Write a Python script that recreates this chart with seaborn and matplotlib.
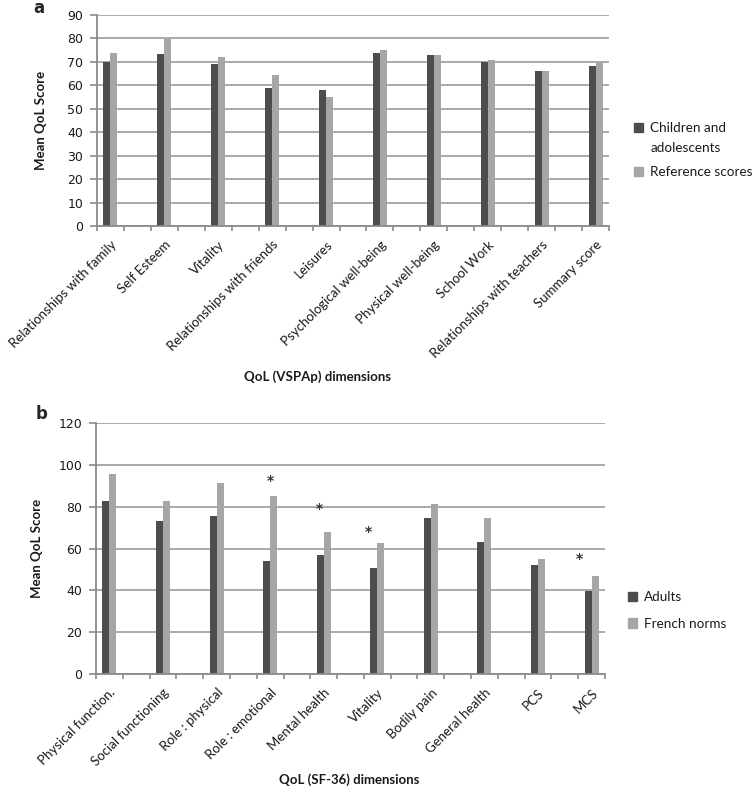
import matplotlib
matplotlib.use("Agg")
import matplotlib.pyplot as plt
import matplotlib.patches as mpatches
import seaborn as sns
import pandas as pd
import numpy as np

# ---------------- data ----------------
vspa_dims = ["Relationships with family", "Self Esteem", "Vitality",
             "Relationships with friends", "Leisures", "Psychological well-being",
             "Physical well-being", "School Work", "Relationships with teachers",
             "Summary score"]
vspa_children = [70.0, 73.3, 69.1, 58.7, 57.8, 73.8, 72.9, 69.9, 66.2, 68.1]
vspa_reference = [73.8, 79.9, 71.9, 64.2, 54.9, 75.2, 72.9, 70.9, 66.2, 69.9]
vspa_groups = ["Children and\nadolescents", "Reference scores"]

sf36_dims = ["Physical function.", "Social functioning", "Role : physical",
             "Role : emotional", "Mental health", "Vitality", "Bodily pain",
             "General health", "PCS", "MCS"]
sf36_adults = [82.8, 73.1, 75.3, 54.0, 56.7, 50.8, 74.6, 62.9, 51.9, 39.9]
sf36_norms = [95.5, 82.8, 91.2, 85.3, 67.8, 62.4, 81.5, 74.6, 54.9, 47.0]
sf36_groups = ["Adults", "French norms"]

sig_dims = ["Role : emotional", "Mental health", "Vitality", "MCS"]
sig_star_y = [92.5, 79.0, 68.0, 55.0]

# ---------------- style ----------------
DARK = "#4d4d4d"
LIGHT = "#a6a6a6"
GRID = "#a3a3a3"
AXC = "#8a8a8a"
TXT = "#1a1a1a"
FONT = ["Lato", "DejaVu Sans"]

sns.set_theme(style="white")
plt.rcParams["font.family"] = FONT

W, H = 755, 789
fig = plt.figure(figsize=(W / 100, H / 100), dpi=100)


def px_axes(l, t, r, b):
    return fig.add_axes([l / W, 1 - b / H, (r - l) / W, (b - t) / H])


def make_panel(ax, dims, s1, s2, groups, ymax, ystep):
    order = []
    for i, d in enumerate(dims):
        order.append(d)
        if i < len(dims) - 1:
            order.append(f"_gap{i}")
    df = pd.DataFrame({
        "dim": dims * 2,
        "score": list(s1) + list(s2),
        "group": [groups[0]] * len(dims) + [groups[1]] * len(dims),
    })
    sns.barplot(data=df, x="dim", y="score", hue="group", order=order,
                hue_order=groups, palette=[DARK, LIGHT], width=0.52, gap=0,
                saturation=1, errorbar=None, legend=False, linewidth=0, ax=ax)
    n = len(order)
    ax.set_xlim(-0.5, n - 0.5)
    ax.set_ylim(0, ymax)
    ax.set_yticks(np.arange(0, ymax + 1, ystep))
    ax.set_yticklabels([str(v) for v in np.arange(0, ymax + 1, ystep)],
                       family="DejaVu Sans", fontsize=9, color=TXT)
    ax.set_axisbelow(True)
    ax.yaxis.grid(True, color=GRID, linewidth=1.3)
    ax.xaxis.grid(False)
    for s in ["top", "right"]:
        ax.spines[s].set_visible(False)
    for s in ["left", "bottom"]:
        ax.spines[s].set_color(AXC)
        ax.spines[s].set_linewidth(1.3)
    pos = [order.index(d) for d in dims]
    ax.set_xticks(pos)
    ax.set_xticklabels(dims, rotation=45, ha="right", rotation_mode="anchor",
                       fontsize=9.5, color=TXT)
    ax.set_xticks(np.arange(-0.5, n, 1.0), minor=True)
    ax.tick_params(axis="x", which="major", length=0, pad=9)
    ax.tick_params(axis="x", which="minor", length=3.5, width=1.2, color=AXC,
                   direction="out", bottom=True)
    ax.tick_params(axis="y", length=5, width=1.2, color=AXC, direction="out",
                   left=True, pad=5)
    ax.set_xlabel("")
    ax.set_ylabel("Mean QoL Score", fontsize=9.5, fontweight="bold",
                  color=TXT)
    return order


# ---------------- panel a ----------------
ax1 = px_axes(97, 15, 609, 226)
make_panel(ax1, vspa_dims, vspa_children, vspa_reference, vspa_groups, 90, 10)
ax1.yaxis.set_label_coords(-0.098, 0.5)
fig.text(317 / W, 1 - 377 / H, "QoL (VSPAp) dimensions", ha="center",
         va="center", fontsize=9.5, fontweight="bold", color=TXT)
fig.text(39 / W, 1 - 8 / H, "a", ha="center", va="center", fontsize=12,
         fontweight="bold", family="DejaVu Sans")
h1 = [mpatches.Patch(color=DARK), mpatches.Patch(color=LIGHT)]
leg1 = ax1.legend(h1, vspa_groups, loc="upper left",
                  bbox_to_anchor=(634 / W, 1 - 122 / H),
                  bbox_transform=fig.transFigure, frameon=False,
                  fontsize=9.7, handlelength=0.7, handleheight=0.7,
                  handletextpad=0.5, labelspacing=0.95, borderpad=0,
                  borderaxespad=0)
for t in leg1.get_texts():
    t.set_linespacing(1.75)
    t.set_color(TXT)
# align the first handle with the first line of its two-line label
leg1.get_patches()[0].set_y(leg1.get_patches()[0].get_y() + 7.6)

# ---------------- panel b ----------------
ax2 = px_axes(96, 423, 605, 674)
order2 = make_panel(ax2, sf36_dims, sf36_adults, sf36_norms, sf36_groups, 120, 20)
ax2.yaxis.set_label_coords(-0.104, 0.5)
star_shift = {"Role : emotional": 0.0, "Mental health": -0.15,
              "Vitality": -0.35, "MCS": -0.47}
for d, yv in zip(sig_dims, sig_star_y):
    ax2.text(order2.index(d) + star_shift[d], yv, "*", ha="center",
             va="center", fontsize=10, fontweight="bold", color="#333333",
             family="DejaVu Sans")
fig.text(349 / W, 1 - 780 / H, "QoL (SF-36) dimensions", ha="center",
         va="center", fontsize=9.5, fontweight="bold", color=TXT)
fig.text(42 / W, 1 - 414 / H, "b", ha="center", va="center", fontsize=12,
         fontweight="bold", family="DejaVu Sans")
h2 = [mpatches.Patch(color=DARK), mpatches.Patch(color=LIGHT)]
leg2 = ax2.legend(h2, sf36_groups, loc="upper left",
                  bbox_to_anchor=(628 / W, 1 - 591 / H),
                  bbox_transform=fig.transFigure, frameon=False,
                  fontsize=9.7, handlelength=0.7, handleheight=0.7,
                  handletextpad=0.5, labelspacing=1.1, borderpad=0,
                  borderaxespad=0)
for t in leg2.get_texts():
    t.set_color(TXT)

fig.savefig("out.png", dpi=100, facecolor="white")
